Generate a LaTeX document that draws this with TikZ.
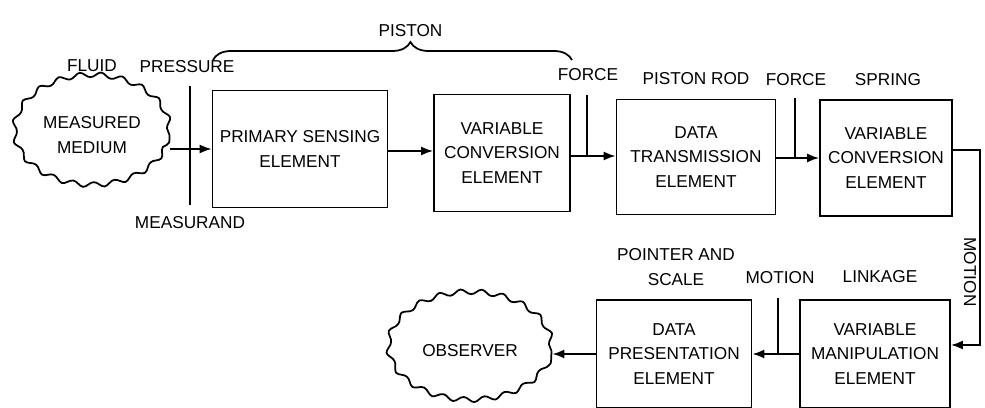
\documentclass[tikz,border=0pt]{standalone}
\usepackage{fontspec}
\setmainfont{Liberation Sans}
\usepackage{tikz}
\usetikzlibrary{arrows.meta, positioning, calc, shapes, decorations.pathreplacing, decorations.pathmorphing}

\tikzset{
  blk/.style={draw, line width=1pt, align=center, inner sep=2pt},
  cloudy/.style={draw, ellipse, line width=1pt, align=center, inner sep=0pt,
    decorate, decoration={snake, segment length=4.2mm, amplitude=0.5mm}},
  lbl/.style={align=center, inner sep=1pt},
  arr/.style={line width=1pt, -{Latex[length=2.4mm, width=1.8mm]}},
  wire/.style={line width=1pt}
}

\begin{document}
\begin{tikzpicture}[x=0.02cm, y=-0.02cm, font=\fontsize{9.8}{14}\selectfont]

            \useasboundingbox (0,0) rectangle (985,408);

            % 测量介质
            \node[cloudy, minimum width=3.1cm, minimum height=2.2cm] (medium) at (92,135) {MEASURED\\MEDIUM};

            % 上排方框
            \node[blk, minimum width=3.5cm, minimum height=2.34cm] (pse) at (300,149) {PRIMARY SENSING\\ELEMENT};
            \node[blk, minimum width=2.72cm, minimum height=2.34cm] (vce1) at (502,153) {VARIABLE\\CONVERSION\\ELEMENT};
            \node[blk, minimum width=3.18cm, minimum height=2.3cm] (dtr) at (696,157) {DATA\\TRANSMISSION\\ELEMENT};
            \node[blk, minimum width=2.64cm, minimum height=2.32cm] (vce2) at (886,158) {VARIABLE\\CONVERSION\\ELEMENT};

            % 下排方框
            \node[blk, minimum width=3.0cm, minimum height=2.16cm] (vmn) at (875,354) {VARIABLE\\MANIPULATION\\ELEMENT};
            \node[blk, minimum width=3.1cm, minimum height=2.16cm] (dpr) at (674,354) {DATA\\PRESENTATION\\ELEMENT};

            % 观察者
            \node[cloudy, minimum width=3.26cm, minimum height=2.16cm] (observer) at (470,351) {OBSERVER};

            % 标注
            \node[lbl] (fluid) at (92,66) {FLUID};
            \node[lbl] (pressure) at (187,67) {PRESSURE};
            \node[lbl] (measurand) at (190,223) {MEASURAND};
            \node[lbl] (force1) at (588,75) {FORCE};
            \node[lbl] (rod) at (696,79) {PISTON ROD};
            \node[lbl] (force2) at (796,80) {FORCE};
            \node[lbl] (spring) at (888,80) {SPRING};
            \node[lbl] (pointer) at (676,267) {POINTER AND\\SCALE};
            \node[lbl] (motion1) at (780,278) {MOTION};
            \node[lbl] (linkage) at (880,277) {LINKAGE};
            \node[lbl, rotate=-90] (motion2) at (970,272) {MOTION};

            % 被测量线
            \coordinate (mtop) at (190,86);
            \coordinate (mbot) at (190,205);
            \draw[wire] (mtop) -- (mbot);

            % 活塞括号
            \coordinate (bl) at (213,60);
            \coordinate (br) at (572,60);
            \draw[wire, decorate, decoration={brace, amplitude=0.36cm, aspect=0.55}] (bl) -- (br)
            node[pos=0.55, above=0.42cm, lbl] (piston) {PISTON};

            % 上排箭头
            \draw[arr] (medium.east |- pse.west) -- (pse.west);
            \draw[arr] (pse.east |- 0,151) -- (vce1.west |- 0,151);
            \draw[arr] (vce1.east |- 0,156) -- (dtr.west |- 0,156);
            \draw[arr] (dtr.east |- 0,158) -- (vce2.west |- 0,158);

            % 力
            \coordinate (f1) at (587,95);
            \coordinate (f2) at (795,98);
            \draw[wire] (f1) -- (f1 |- 0,156);
            \draw[wire] (f2) -- (f2 |- 0,158);

            % 运动
            \coordinate (turn) at (980,150);
            \draw[arr] (vce2.east |- turn) -- (turn) |- (vmn.east |- 0,345);

            % 下排箭头
            \coordinate (m2) at (778,298);
            \draw[wire] (m2) -- (m2 |- vmn.west);
            \draw[arr] (vmn.west) -- (dpr.east);
            \draw[arr] (dpr.west) -- (observer.east |- dpr.west);

        \end{tikzpicture}
\end{document}
